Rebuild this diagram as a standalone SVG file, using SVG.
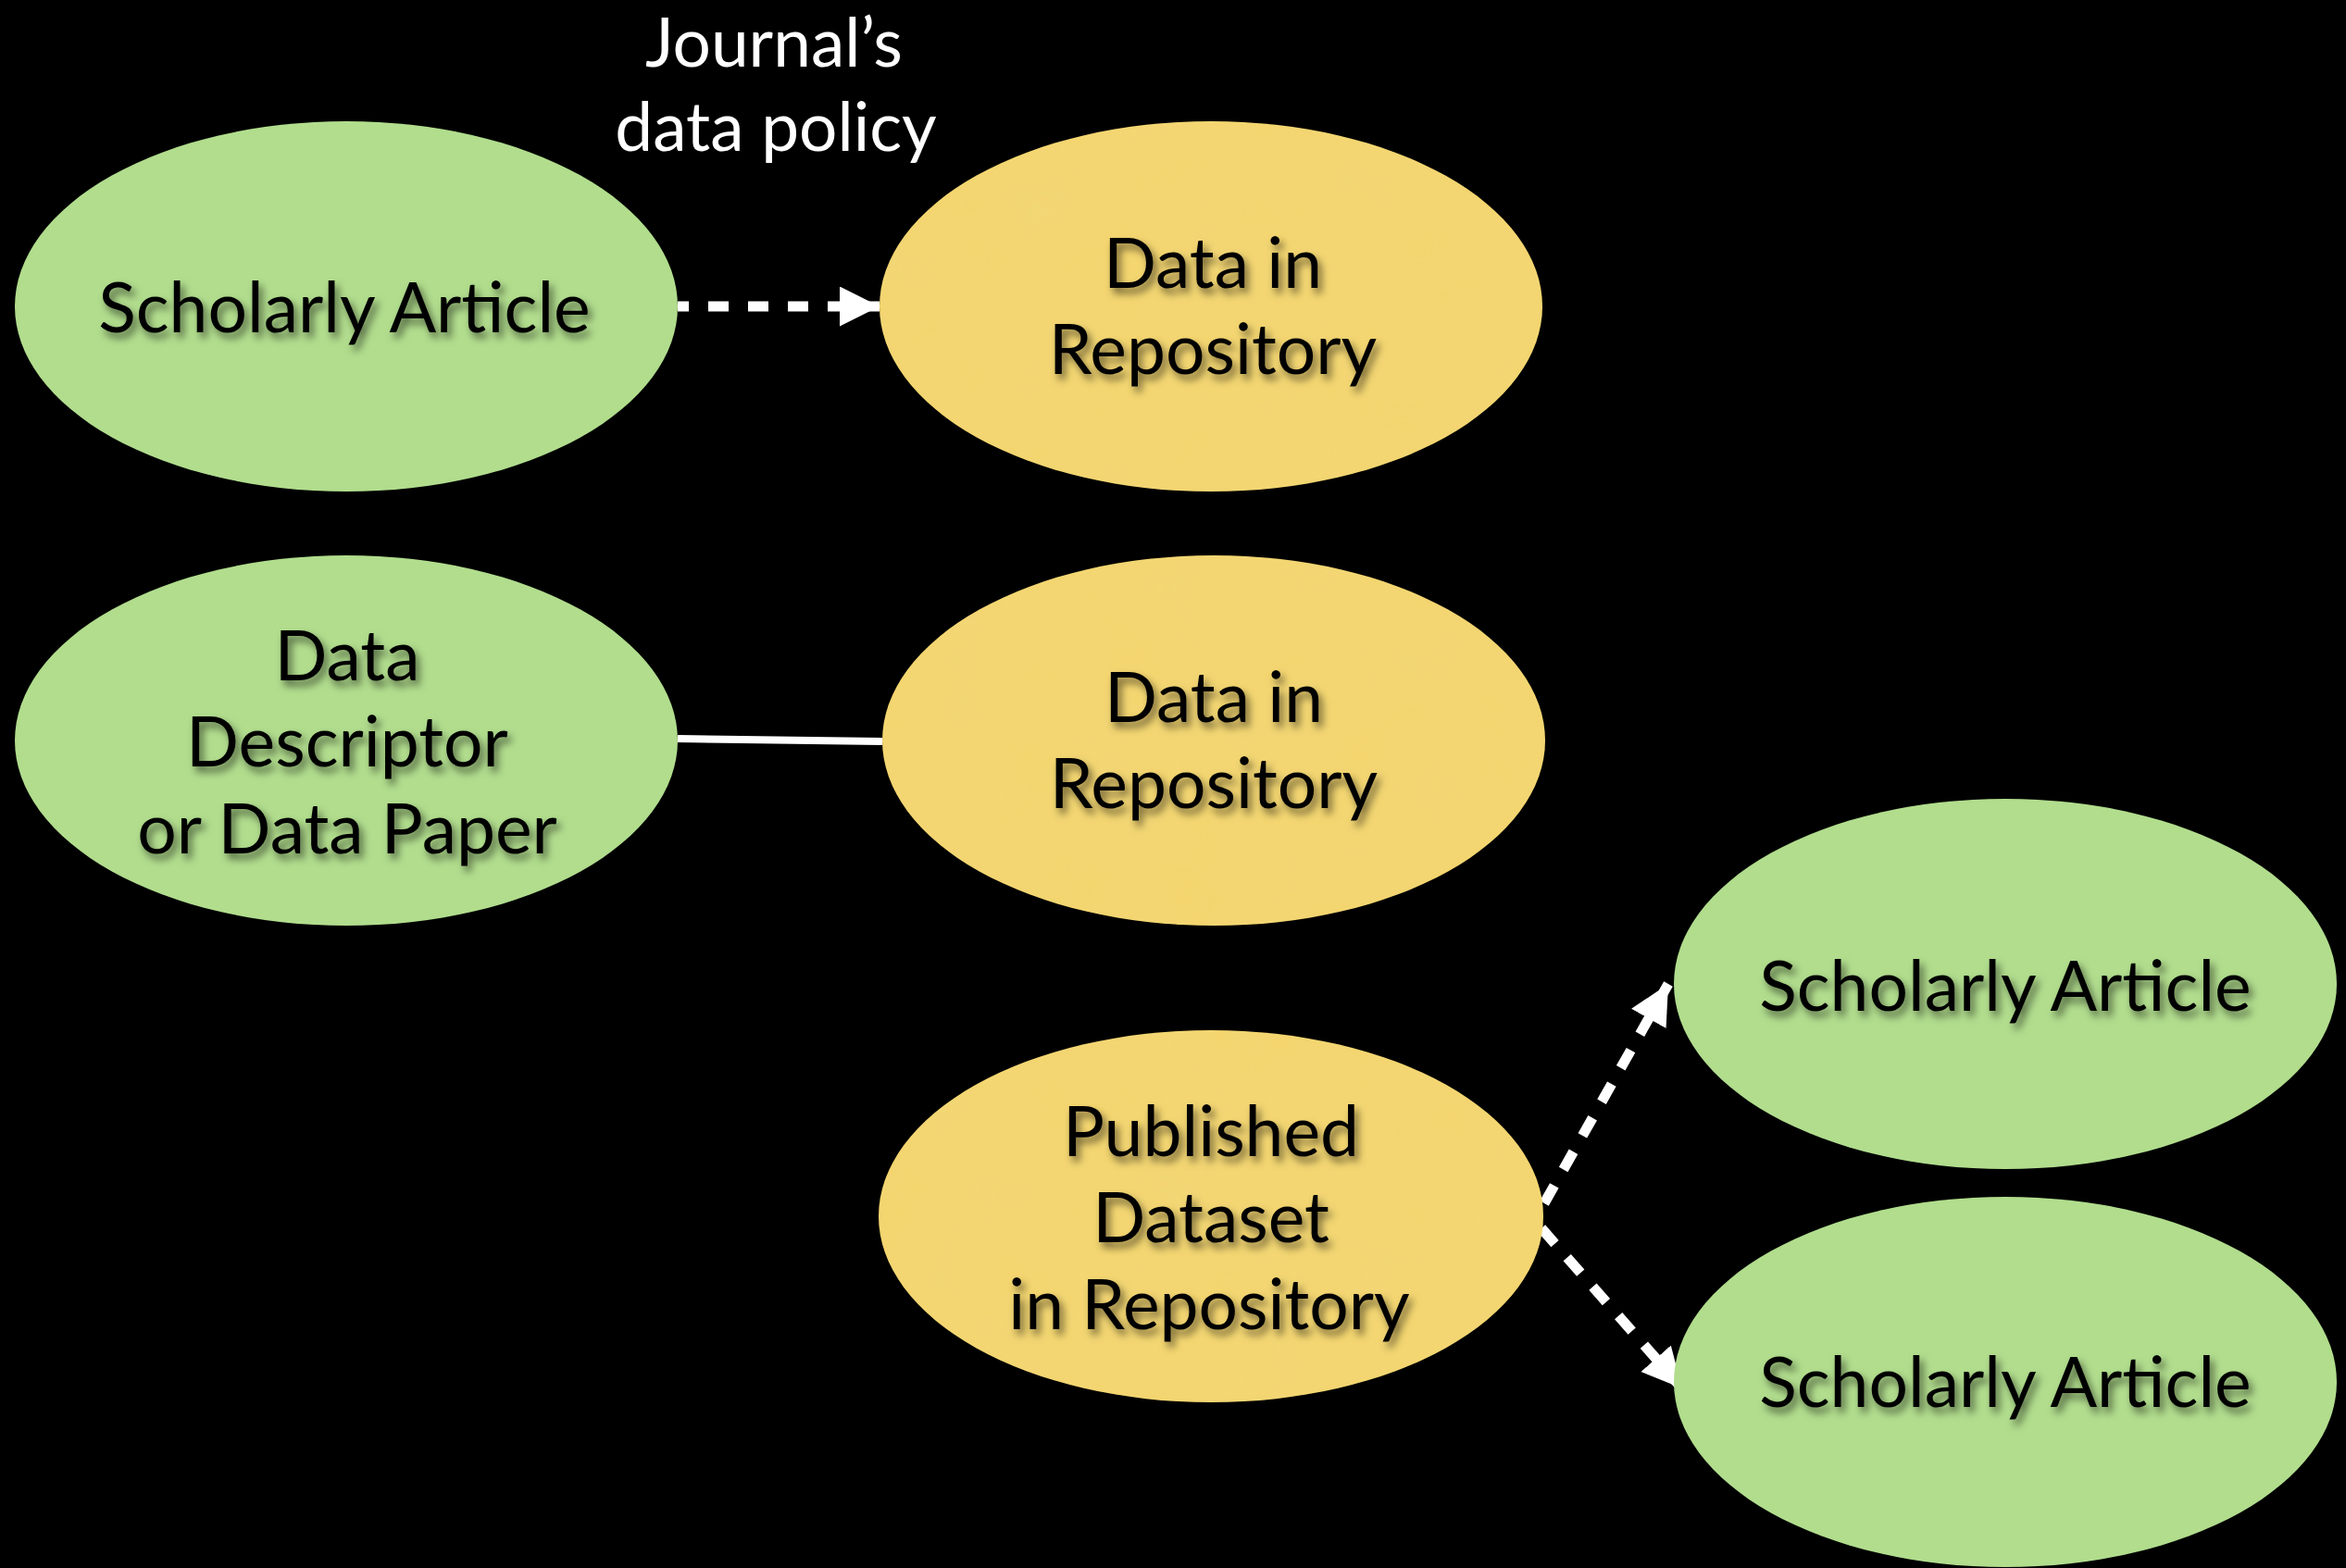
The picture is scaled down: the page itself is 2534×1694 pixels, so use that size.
<svg xmlns="http://www.w3.org/2000/svg" width="2534" height="1694" viewBox="0 0 2534 1694">
<style>
.green{fill:#b1dd8d}
.yellow{fill:#f4d56e}
.lbl{font-family:Lato,"Liberation Sans",sans-serif;font-size:75px;fill:#000;text-anchor:middle;filter:url(#sh)}
.title{font-family:Lato,"Liberation Sans",sans-serif;font-size:73px;fill:#fff;text-anchor:middle}
.conn{stroke:#fff;stroke-width:11;fill:none}
</style>
<defs>
<filter id="sh" x="-10%" y="-30%" width="120%" height="160%">
<feDropShadow dx="4" dy="6" stdDeviation="4" flood-color="#000" flood-opacity="0.55"/>
</filter>
<filter id="tex" x="0" y="0" width="100%" height="100%">
<feTurbulence type="fractalNoise" baseFrequency="0.012" numOctaves="3" seed="4" result="n"/>
<feColorMatrix in="n" type="matrix" values="0 0 0 0 0.85  0 0 0 0 0.72  0 0 0 0 0.25  0 0 0 0.25 0" result="c"/>
<feComposite in="c" in2="SourceGraphic" operator="in" result="m"/>
<feMerge><feMergeNode in="SourceGraphic"/><feMergeNode in="m"/></feMerge>
</filter>
<marker id="ah" markerUnits="userSpaceOnUse" markerWidth="44" markerHeight="44" refX="43" refY="21.5" orient="auto">
<path d="M0,0 L43,21.5 L0,43 Z" fill="#fff"/>
</marker>
</defs>
<rect width="2534" height="1694" fill="#000"/>

<g id="connectors">
<line class="conn" x1="732" y1="331" x2="950" y2="331" stroke-dasharray="22 21" stroke-dashoffset="10" marker-end="url(#ah)"/>
<line x1="732" y1="798" x2="953" y2="801" stroke="#fff" stroke-width="8"/>
<line class="conn" x1="1668" y1="1300" x2="1802" y2="1063" stroke-dasharray="22 20" marker-end="url(#ah)"/>
<line class="conn" x1="1665" y1="1327" x2="1817" y2="1500" stroke-dasharray="22 20" marker-end="url(#ah)"/>
</g>

<g id="policy-label">
<text class="title" x="836" y="72">Journal’s</text>
<text class="title" x="838" y="163">data policy</text>
</g>

<g id="n1">
<ellipse class="green" cx="374" cy="331" rx="358" ry="200"/>
<text class="lbl" x="372" y="359">Scholarly Article</text>
</g>
<g id="n2">
<ellipse class="yellow" cx="1308" cy="331" rx="358" ry="200" filter="url(#tex)"/>
<text class="lbl" x="1310" y="311">Data in</text>
<text class="lbl" x="1310" y="404">Repository</text>
</g>
<g id="n3">
<ellipse class="green" cx="374" cy="800" rx="358" ry="200"/>
<text class="lbl" x="375" y="735">Data</text>
<text class="lbl" x="375" y="828">Descriptor</text>
<text class="lbl" x="375" y="922">or Data Paper</text>
</g>
<g id="n4">
<ellipse class="yellow" cx="1311" cy="800" rx="358" ry="200" filter="url(#tex)"/>
<text class="lbl" x="1311" y="780">Data in</text>
<text class="lbl" x="1311" y="873">Repository</text>
</g>
<g id="n5">
<ellipse class="yellow" cx="1308" cy="1314" rx="359" ry="201" filter="url(#tex)"/>
<text class="lbl" x="1308" y="1249">Published</text>
<text class="lbl" x="1308" y="1342">Dataset</text>
<text class="lbl" x="1306" y="1436">in Repository</text>
</g>
<g id="n6">
<ellipse class="green" cx="2166" cy="1063" rx="358" ry="200"/>
<text class="lbl" x="2166" y="1092">Scholarly Article</text>
</g>
<g id="n7">
<ellipse class="green" cx="2166" cy="1493" rx="358" ry="200"/>
<text class="lbl" x="2166" y="1520">Scholarly Article</text>
</g>
</svg>
